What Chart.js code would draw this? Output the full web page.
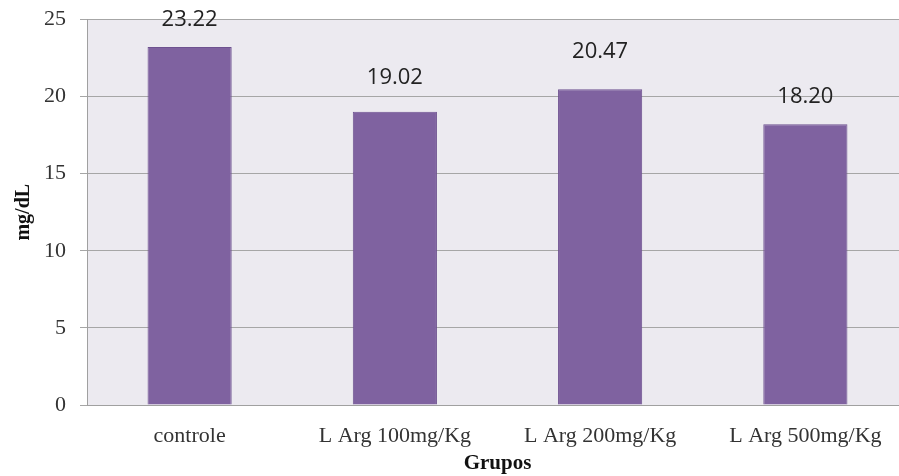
<!DOCTYPE html>
<html><head><meta charset="utf-8">
<script src="https://cdn.jsdelivr.net/npm/chart.js@4.4.0/dist/chart.umd.min.js"></script>
<style>html,body{margin:0;padding:0;overflow:hidden;background:#fff}#wrap{width:908px;height:476px}</style>
</head><body><div id="wrap"><canvas id="c" width="908" height="476"></canvas></div>
<script>
const categories = ["controle", "L Arg 100mg/Kg", "L Arg 200mg/Kg", "L Arg 500mg/Kg"];
const values = [23.22, 19.02, 20.47, 18.20];
const valueLabels = ["23.22", "19.02", "20.47", "18.20"];
const labelOffsets = [27, 34, 38, 28];
const yTicks = [0, 5, 10, 15, 20, 25];

const bgPlugin = {
  id: 'bg',
  beforeDraw(chart) {
    const {ctx, chartArea: a} = chart;
    ctx.save(); ctx.fillStyle = '#ECEAF0';
    ctx.fillRect(a.left, a.top, a.right - a.left, a.bottom - a.top);
    ctx.restore();
  }
};
const labelPlugin = {
  id: 'vlabels',
  afterDatasetsDraw(chart) {
    const {ctx} = chart;
    const meta = chart.getDatasetMeta(0);
    ctx.save();
    ctx.font = '22px "Open Sans", sans-serif';
    ctx.fillStyle = '#222';
    ctx.textAlign = 'center'; ctx.textBaseline = 'middle';
    meta.data.forEach((bar, i) => {
      ctx.fillText(valueLabels[i], bar.x, bar.y - labelOffsets[i]);
    });
    ctx.restore();
  }
};

new Chart(document.getElementById('c'), {
  type: 'bar',
  data: { labels: categories, datasets: [{ data: values, backgroundColor: '#7F62A0', borderColor: '#6E5290', borderWidth: 1, barPercentage: 0.82, categoryPercentage: 0.5 }] },
  options: {
    responsive: false, animation: false,
    layout: { padding: { top: 18, left: 0, right: 0, bottom: 0 } },
    plugins: { legend: { display: false }, tooltip: { enabled: false } },
    scales: {
      x: {
        grid: { display: false },
        border: { display: true, color: '#A0A0A0' },
        ticks: { color: '#333', font: { family: '"Liberation Serif", serif', size: 22 }, padding: 10, maxRotation: 0 },
        title: { display: true, text: 'Grupos', color: '#111', font: { family: '"Liberation Serif", serif', size: 21, weight: 'bold' }, padding: { top: 0, bottom: 0 } },
        afterFit(s) { s.height = 71; }
      },
      y: {
        min: 0, max: 25,
        afterBuildTicks(s) { s.ticks = yTicks.map(v => ({ value: v })); },
        grid: { color: '#A6A6A6', tickLength: 7, drawTicks: true },
        border: { display: true, color: '#A0A0A0' },
        ticks: { color: '#333', font: { family: '"Liberation Serif", serif', size: 22, lineHeight: 0.5 }, padding: 14 },
        title: { display: true, text: 'mg/dL', color: '#111', font: { family: '"Liberation Serif", serif', size: 20, weight: 'bold' }, padding: { top: 12, bottom: 0 } },
        afterFit(s) { s.width = 87; }
      }
    }
  },
  plugins: [bgPlugin, labelPlugin]
});
</script></body></html>
